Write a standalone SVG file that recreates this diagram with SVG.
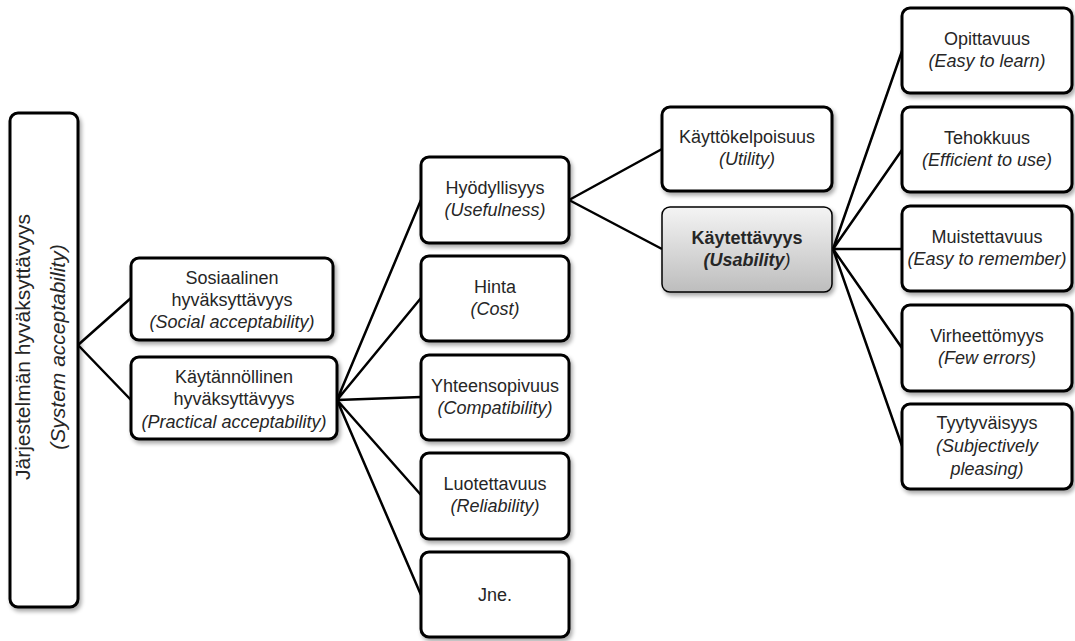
<svg xmlns="http://www.w3.org/2000/svg" width="1075" height="641" viewBox="0 0 1075 641">
<defs>
<filter id="sh" x="-10%" y="-10%" width="130%" height="130%">
<feGaussianBlur in="SourceAlpha" stdDeviation="2"/>
<feOffset dx="2" dy="3" result="o"/>
<feComponentTransfer><feFuncA type="linear" slope="0.35"/></feComponentTransfer>
<feMerge><feMergeNode/><feMergeNode in="SourceGraphic"/></feMerge>
</filter>
<linearGradient id="gr" x1="0" y1="0" x2="0" y2="1">
<stop offset="0" stop-color="#f4f4f4"/>
<stop offset="1" stop-color="#bdbdbd"/>
</linearGradient>
</defs>
<style>
.b{fill:#fff;stroke:#000;stroke-width:3;filter:url(#sh)}
.g{fill:url(#gr);stroke:#000;stroke-width:1.5;filter:url(#sh)}
text{font-family:"Liberation Sans",Arial,sans-serif;font-size:18px;fill:#262626;text-anchor:middle}
.i{font-style:italic}
.c{fill:none;stroke:#000;stroke-width:2.5}
</style>
<rect width="1075" height="641" fill="#fff"/>
<g id="connectors">
<path class="c" d="M78,345L131,298M78,345L131,400"/>
<path class="c" d="M337,400L421,200M337,400L421,298M337,400L421,397M337,400L421,495M337,400L421,595"/>
<path class="c" d="M569,200L662,149M569,200L662,249"/>
<path class="c" d="M833,249L902,51M833,249L902,150M833,249L902,249M833,249L902,348M833,249L902,446"/>
</g>
<g id="n_system">
<rect class="b" x="10" y="113" width="68" height="494" rx="8"/>
<text transform="translate(30,347) rotate(-90)" style="font-size:21px">Järjestelmän hyväksyttävyys</text>
<text class="i" transform="translate(65,347) rotate(-90)" style="font-size:21px">(System acceptability)</text>
</g>
<g id="n_social">
<rect class="b" x="131" y="258" width="202" height="82" rx="8"/>
<text x="232" y="284">Sosiaalinen</text>
<text x="232" y="306">hyväksyttävyys</text>
<text class="i" x="232" y="328">(Social acceptability)</text>
</g>
<g id="n_practical">
<rect class="b" x="131" y="357" width="206" height="82" rx="8"/>
<text x="234" y="383">Käytännöllinen</text>
<text x="234" y="405">hyväksyttävyys</text>
<text class="i" x="234" y="428">(Practical acceptability)</text>
</g>
<g id="n_useful">
<rect class="b" x="421" y="157" width="148" height="86" rx="8"/>
<text x="495" y="194">Hyödyllisyys</text>
<text class="i" x="495" y="216">(Usefulness)</text>
</g>
<g id="n_cost">
<rect class="b" x="421" y="256" width="148" height="85" rx="8"/>
<text x="495" y="293">Hinta</text>
<text class="i" x="495" y="315">(Cost)</text>
</g>
<g id="n_compat">
<rect class="b" x="421" y="355" width="148" height="85" rx="8"/>
<text x="495" y="392">Yhteensopivuus</text>
<text class="i" x="495" y="414">(Compatibility)</text>
</g>
<g id="n_reliab">
<rect class="b" x="421" y="453" width="148" height="86" rx="8"/>
<text x="495" y="490">Luotettavuus</text>
<text class="i" x="495" y="512">(Reliability)</text>
</g>
<g id="n_jne">
<rect class="b" x="421" y="552" width="148" height="85" rx="8"/>
<text x="495" y="601">Jne.</text>
</g>
<g id="n_utility">
<rect class="b" x="662" y="107" width="170" height="84" rx="8"/>
<text x="747" y="143">Käyttökelpoisuus</text>
<text class="i" x="747" y="165">(Utility)</text>
</g>
<g id="n_usability">
<rect class="g" x="662" y="207" width="170" height="85" rx="8"/>
<text x="747" y="244" style="font-weight:bold">Käytettävyys</text>
<text x="747" y="266"><tspan class="i" style="font-weight:bold">(Usability</tspan><tspan class="i">)</tspan></text>
</g>
<g id="n_learn">
<rect class="b" x="902" y="8" width="170" height="85" rx="8"/>
<text x="987" y="45">Opittavuus</text>
<text class="i" x="987" y="67">(Easy to learn)</text>
</g>
<g id="n_eff">
<rect class="b" x="902" y="107" width="170" height="85" rx="8"/>
<text x="987" y="144">Tehokkuus</text>
<text class="i" x="987" y="166">(Efficient to use)</text>
</g>
<g id="n_rem">
<rect class="b" x="902" y="206" width="170" height="85" rx="8"/>
<text x="987" y="243">Muistettavuus</text>
<text class="i" x="987" y="265">(Easy to remember)</text>
</g>
<g id="n_err">
<rect class="b" x="902" y="305" width="170" height="86" rx="8"/>
<text x="987" y="342">Virheettömyys</text>
<text class="i" x="987" y="364">(Few errors)</text>
</g>
<g id="n_sat">
<rect class="b" x="902" y="404" width="170" height="85" rx="8"/>
<text x="987" y="429">Tyytyväisyys</text>
<text class="i" x="987" y="452">(Subjectively</text>
<text class="i" x="987" y="475">pleasing)</text>
</g>
</svg>
